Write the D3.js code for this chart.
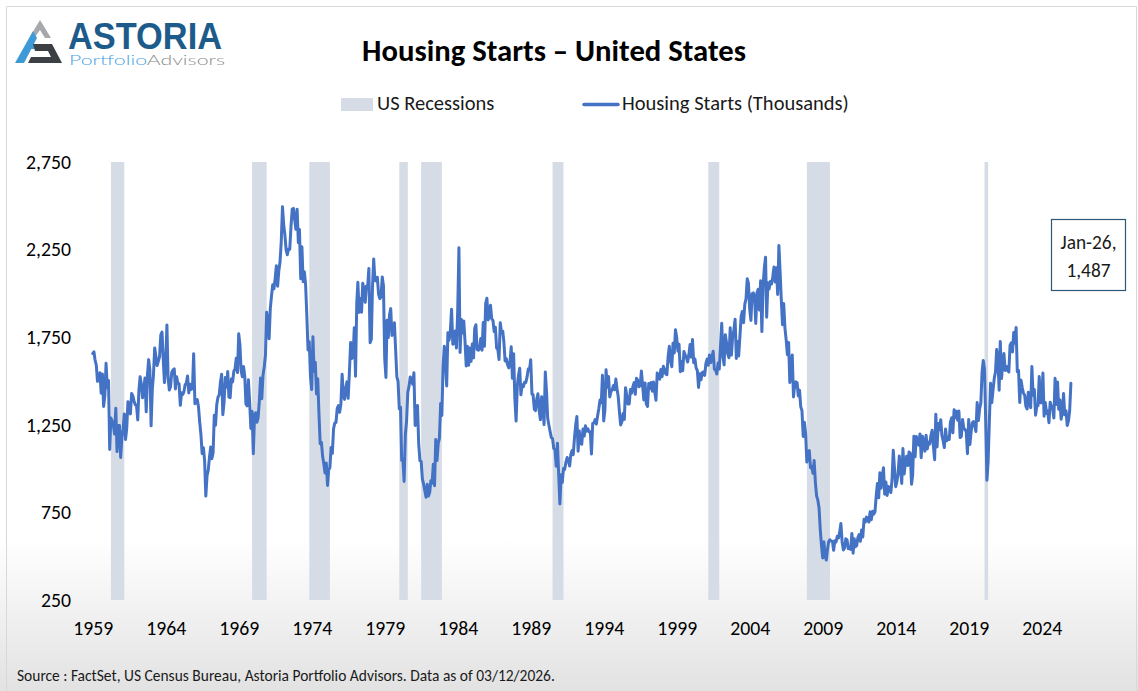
<!DOCTYPE html>
<html lang="en">
<head>
<meta charset="utf-8">
<title>Housing Starts - United States</title>
<script src="https://cdn.jsdelivr.net/npm/d3@7"></script>
<style>
  body { margin: 0; background: #fff; }
  svg { display: block; }
</style>
</head>
<body>
<svg id="chart" width="1138" height="691"></svg>
<script>
// housing starts, SAAR thousands, monthly from Jan 1959 to Jan 2026
const firstMonth = "1959-01";
const starts = [
  1657,1667,1620,1590,1498,1503,1547,1430,1540,1355,1416,1601, // 1959
  1460,1503,1109,1289,1271,1247,1197,1344,1097,1246,1246,1063,
  1183,1226,1312,1166,1228,1382,1335,1312,1429,1415,1385,1365,
  1361,1278,1443,1524,1483,1404,1450,1517,1324,1533,1622,1564,
  1244,1456,1534,1689,1641,1588,1614,1639,1763,1779,1622,1491,
  1603,1820,1517,1448,1467,1550,1562,1569,1455,1524,1486,1484, // 1964
  1361,1433,1423,1438,1478,1488,1529,1432,1482,1452,1460,1656,
  1370,1378,1394,1352,1265,1194,1086,1119,1046,843,961,990,
  1067,1123,1056,1091,1304,1248,1364,1407,1421,1491,1538,1308,
  1380,1520,1466,1554,1408,1405,1512,1495,1556,1569,1630,1548,
  1769,1705,1561,1524,1583,1528,1368,1358,1507,1381,1229,1327, // 1969
  1085,1305,1319,1264,1290,1385,1517,1399,1534,1580,1647,1893,
  1828,1741,1910,1986,2049,2026,2083,2158,2041,2128,2182,2295,
  2494,2390,2334,2249,2221,2254,2252,2382,2481,2485,2421,2366,
  2481,2289,2365,2084,2266,2067,2123,2051,1874,1677,1724,1526,
  1451,1752,1555,1607,1426,1513,1316,1142,1150,1070,1026,975,  // 1974
  1032,904,993,1005,1121,1087,1226,1260,1264,1344,1360,1321,
  1367,1538,1421,1395,1459,1495,1401,1550,1720,1629,1641,1804,
  1527,1943,2063,1892,1971,1893,2058,2020,1949,2042,2042,2142,
  1718,1738,2032,2197,2075,2070,2092,1996,1970,1981,2094,2044,
  1630,1520,1847,1748,1876,1913,1760,1778,1832,1681,1524,1498, // 1979
  1341,1350,1047,1051,927,1196,1269,1436,1471,1523,1510,1482,
  1547,1246,1306,1360,1140,1045,1041,940,911,873,837,910,
  843,866,931,917,1025,902,1166,1046,1144,1173,1372,1303,
  1586,1699,1606,1472,1776,1733,1785,1910,1710,1715,1785,1688,
  1897,2260,1663,1851,1774,1843,1732,1586,1698,1590,1689,1612, // 1984
  1711,1632,1800,1821,1680,1676,1684,1743,1676,1834,1698,1942,
  1972,1848,1876,1933,1854,1847,1782,1807,1687,1681,1623,1833,
  1774,1784,1726,1614,1628,1594,1575,1605,1695,1515,1656,1400,
  1271,1473,1532,1573,1421,1478,1467,1493,1492,1522,1569,1563,
  1621,1425,1422,1339,1331,1397,1427,1332,1279,1410,1351,1251, // 1989
  1551,1437,1289,1248,1212,1177,1171,1115,1110,1014,1145,969,
  798,965,921,1001,996,1036,1063,1049,1015,1079,1103,1079,
  1176,1250,1297,1099,1214,1145,1139,1226,1186,1244,1214,1227,
  1210,1210,1083,1258,1260,1280,1254,1300,1343,1392,1376,1533,
  1272,1337,1564,1465,1526,1409,1439,1450,1474,1450,1511,1455, // 1994
  1407,1316,1249,1267,1314,1281,1461,1416,1369,1369,1452,1431,
  1467,1491,1424,1516,1504,1467,1472,1557,1475,1392,1489,1370,
  1355,1486,1457,1492,1442,1494,1437,1390,1546,1520,1510,1566,
  1525,1584,1567,1540,1536,1641,1698,1614,1582,1715,1660,1792,
  1748,1670,1710,1553,1611,1559,1669,1648,1635,1608,1648,1708, // 1999
  1636,1737,1604,1626,1575,1559,1463,1541,1507,1549,1551,1532,
  1600,1625,1590,1649,1605,1636,1670,1567,1562,1540,1602,1568,
  1698,1829,1642,1592,1764,1717,1655,1633,1804,1648,1753,1788,
  1853,1629,1726,1643,1751,1867,1897,1833,1939,1967,2083,2057,
  1911,1846,1998,2003,1981,1828,2002,2024,1905,2072,1782,2042, // 2004
  2144,2207,1864,2061,2025,2068,2054,2095,2151,2065,2147,1994,
  2273,2119,1969,1821,1942,1802,1737,1650,1720,1491,1570,1649,
  1409,1480,1495,1490,1415,1448,1354,1330,1183,1264,1197,1037,
  1084,1103,1005,1013,973,1046,923,844,820,777,652,560,
  490,582,505,478,540,585,594,586,585,534,588,581,             // 2009
  614,604,636,687,583,536,546,599,594,543,545,539,
  630,517,600,554,561,608,623,585,650,610,711,694,
  723,704,695,753,708,757,740,754,847,915,833,976,
  888,962,1005,854,923,847,898,883,863,936,1105,1003,
  897,927,970,1072,1001,915,1115,969,1036,1071,1018,1095,      // 2014
  1087,911,963,1184,1067,1183,1162,1134,1198,1062,1185,1153,
  1099,1190,1112,1151,1141,1190,1219,1126,1051,1310,1124,1257,
  1222,1279,1191,1160,1120,1226,1159,1176,1166,1265,1290,1204,
  1336,1290,1327,1276,1329,1177,1184,1280,1228,1224,1209,1085,
  1280,1138,1205,1261,1268,1246,1212,1377,1274,1340,1375,1548, // 2019
  1617,1567,1276,934,1038,1268,1487,1376,1448,1514,1551,1680,
  1625,1447,1725,1514,1594,1657,1560,1583,1562,1551,1703,1718,
  1666,1777,1716,1805,1553,1561,1377,1505,1463,1432,1419,1357,
  1340,1436,1380,1348,1583,1418,1451,1305,1356,1359,1525,1376,
  1376,1546,1299,1377,1315,1329,1262,1379,1355,1344,1289,1515, // 2024
  1366,1494,1339,1392,1282,1321,1428,1307,1330,1246,1272,1330,
  1487                                                         // Jan 2026
];

// NBER recessions: first month and the month after the trough
const recessionStart = ["1960-04","1969-12","1973-11","1980-01","1981-07","1990-07","2001-03","2007-12","2020-02"];
const recessionEnd   = ["1961-03","1970-12","1975-04","1980-08","1982-12","1991-04","2001-12","2009-07","2020-05"];

const yTicks = [250, 750, 1250, 1750, 2250, 2750];
const xTickYears = [1959, 1964, 1969, 1974, 1979, 1984, 1989, 1994, 1999, 2004, 2009, 2014, 2019, 2024];
const lastLabel = ["Jan-26,", "1,487"];
const legendNames = ["US Recessions", "Housing Starts (Thousands)"];

const W = 1138, H = 691;
const font = "Carlito, Calibri, Lato, 'Noto Sans', sans-serif";
const lineBlue = "#4472c4";
const bandColor = "#d6dce5";

const svg = d3.select("#chart");
const parseMonth = d3.timeParse("%Y-%m");
const start = parseMonth(firstMonth);
const series = starts.map((v, i) => ({ date: d3.timeMonth.offset(start, i), value: v }));

// pick a font size so that the sample text is the given width
function sizeFor(text, width, weight) {
  const t = svg.append("text")
    .attr("font-family", font)
    .attr("font-weight", weight || 400)
    .attr("font-size", 100)
    .text(text);
  const w = t.node().getComputedTextLength();
  t.remove();
  return 100 * width / w;
}

// background: white fading to light grey at the bottom
const defs = svg.append("defs");
const grad = defs.append("linearGradient").attr("id", "bg").attr("x1", 0).attr("y1", 0).attr("x2", 0).attr("y2", 1);
grad.append("stop").attr("offset", "0.78").attr("stop-color", "#ffffff");
grad.append("stop").attr("offset", "1").attr("stop-color", "#e2e2e2");
svg.append("rect").attr("width", W).attr("height", H).attr("fill", "url(#bg)");
svg.append("path")
  .attr("d", "M6.5," + H + "V6.5H" + (W - 1.5) + "V" + H)
  .attr("fill", "none").attr("stroke", "#d8d8d8").attr("stroke-width", 1);

// logo
const logo = svg.append("g");
logo.append("polygon").attr("points", "40,20 51,38 45,38 40,30 35,37 31,35").attr("fill", "#a6a8ab");
logo.append("polygon").attr("points", "15,63 33,31 37,38 24,63").attr("fill", "#3d9ad6");
logo.append("polygon").attr("points", "27,44 41,44 39,49 25,49").attr("fill", "#3d9ad6");
logo.append("polygon").attr("points", "33,44 52,44 62,63 28,63 31,57 51,57 48,51 35,51").attr("fill", "#3c4044");
logo.append("text")
  .attr("x", 68).attr("y", 49)
  .attr("font-family", "'Liberation Sans', Arial, sans-serif")
  .attr("font-weight", 700).attr("font-size", 36)
  .attr("textLength", 154).attr("lengthAdjust", "spacingAndGlyphs")
  .attr("fill", "#1d5b8a").text("ASTORIA");
const sub = logo.append("text")
  .attr("x", 69).attr("y", 65)
  .attr("font-family", "Lato, 'Open Sans', sans-serif")
  .attr("font-weight", 300).attr("font-size", 14.5)
  .attr("textLength", 156).attr("lengthAdjust", "spacingAndGlyphs");
sub.append("tspan").attr("fill", "#4aa3df").text("Portfolio");
sub.append("tspan").attr("fill", "#8c8c8c").text("Advisors");

// title
svg.append("text")
  .attr("x", 554).attr("y", 61)
  .attr("text-anchor", "middle")
  .attr("font-family", font).attr("font-weight", 700)
  .attr("font-size", sizeFor("Housing Starts \u2013 United States", 384, 700))
  .attr("fill", "#000")
  .text("Housing Starts \u2013 United States");

// legend
const legSize = sizeFor(legendNames[1], 227);
svg.append("rect").attr("x", 341).attr("y", 98).attr("width", 32).attr("height", 13).attr("fill", bandColor);
svg.append("text").attr("x", 377).attr("y", 110)
  .attr("font-family", font).attr("font-size", legSize).attr("fill", "#1a1a1a").text(legendNames[0]);
svg.append("line").attr("x1", 584).attr("x2", 618).attr("y1", 104.5).attr("y2", 104.5)
  .attr("stroke", lineBlue).attr("stroke-width", 3.5).attr("stroke-linecap", "round");
svg.append("text").attr("x", 622).attr("y", 110)
  .attr("font-family", font).attr("font-size", legSize).attr("fill", "#1a1a1a").text(legendNames[1]);

// scales
const x = d3.scaleTime()
  .domain([start, d3.timeMonth.offset(start, starts.length - 1)])
  .range([92.7, 1070.9]);
const y = d3.scaleLinear().domain([250, 2750]).range([600, 162]);

// recession bands
svg.append("g").selectAll("rect")
  .data(recessionStart.map((s, i) => [parseMonth(s), parseMonth(recessionEnd[i])]))
  .join("rect")
  .attr("x", d => x(d[0]))
  .attr("width", d => x(d[1]) - x(d[0]))
  .attr("y", y(2750))
  .attr("height", y(250) - y(2750))
  .attr("fill", bandColor);

// axes
const tickSize = sizeFor("1959", 40);
const yAxis = svg.append("g")
  .attr("transform", "translate(71,0)")
  .call(d3.axisLeft(y).tickValues(yTicks).tickFormat(d3.format(",")).tickSize(0).tickPadding(0));
yAxis.select(".domain").remove();
yAxis.selectAll("text").attr("font-family", font).attr("font-size", tickSize).attr("fill", "#000");

const xAxis = svg.append("g")
  .attr("transform", "translate(0,621)")
  .call(d3.axisBottom(x)
    .tickValues(xTickYears.map(yr => new Date(yr, 0, 1)))
    .tickFormat(d3.timeFormat("%Y"))
    .tickSize(0).tickPadding(0));
xAxis.select(".domain").remove();
xAxis.selectAll("text").attr("font-family", font).attr("font-size", tickSize).attr("fill", "#000")
  .attr("dy", "0.72em");

// housing starts line
svg.append("path")
  .datum(series)
  .attr("fill", "none")
  .attr("stroke", lineBlue)
  .attr("stroke-width", 3)
  .attr("stroke-linejoin", "round")
  .attr("stroke-linecap", "round")
  .attr("d", d3.line().x(d => x(d.date)).y(d => y(d.value)));

// last value call-out
svg.append("rect")
  .attr("x", 1051.5).attr("y", 219.5).attr("width", 74).attr("height", 71)
  .attr("fill", "#fff").attr("stroke", "#2e5675").attr("stroke-width", 1.2);
const boxSize = sizeFor(lastLabel[0], 56);
svg.append("text")
  .attr("x", 1088.5).attr("y", 249)
  .attr("text-anchor", "middle")
  .attr("font-family", font).attr("font-size", boxSize).attr("fill", "#1a1a1a")
  .text(lastLabel[0]);
svg.append("text")
  .attr("x", 1088.5).attr("y", 277)
  .attr("text-anchor", "middle")
  .attr("font-family", font).attr("font-size", boxSize).attr("fill", "#1a1a1a")
  .text(lastLabel[1]);

// source note
const note = "Source : FactSet, US Census Bureau, Astoria Portfolio Advisors. Data as of 03/12/2026.";
svg.append("text")
  .attr("x", 17).attr("y", 681)
  .attr("font-family", font)
  .attr("font-size", sizeFor(note, 538))
  .attr("fill", "#1a1a1a")
  .text(note);
</script>
</body>
</html>
